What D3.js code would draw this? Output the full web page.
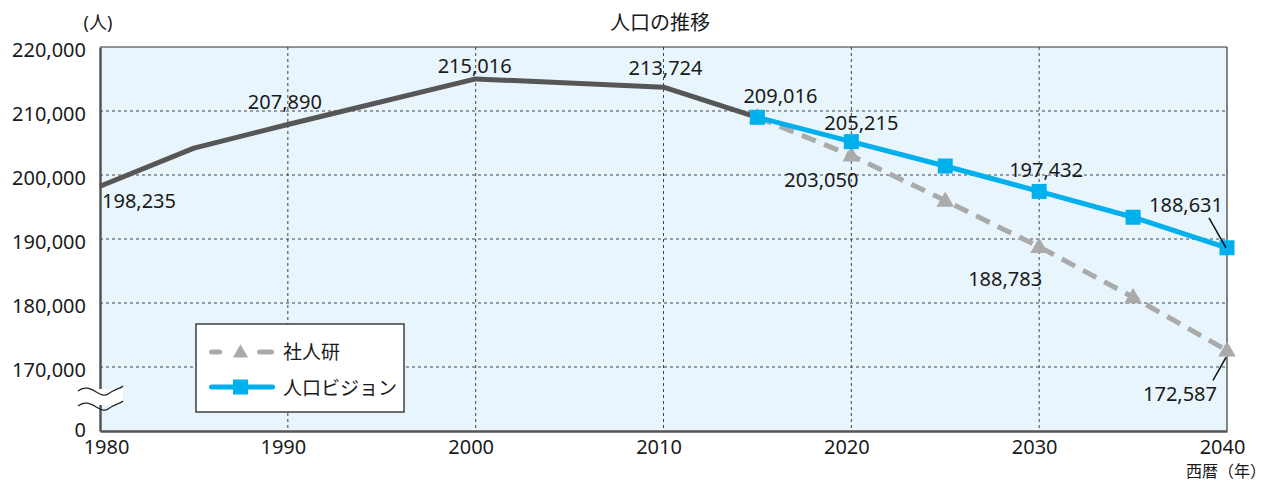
<!DOCTYPE html>
<html>
<head>
<meta charset="utf-8">
<title>人口の推移</title>
<script src="https://d3js.org/d3.v7.min.js"></script>
<style>
  body { margin: 0; background: #fff; }
  svg { display: block; }
  svg text { font-family: 'Noto Sans', 'Noto Sans CJK JP', sans-serif; }
  .lbl { font-size: 20px; fill: #1a1a1a; }
</style>
</head>
<body>
<svg></svg>
<script>
// data
var actualYears = [1980, 1985, 1990, 2000, 2010, 2015];
var actualValues = [198235, 204200, 207890, 215016, 213724, 209016];
var ipssYears = [2015, 2020, 2025, 2030, 2035, 2040];
var ipssValues = [209016, 203050, 196000, 188783, 180900, 172587];
var visionYears = [2015, 2020, 2025, 2030, 2035, 2040];
var visionValues = [209016, 205215, 201400, 197432, 193400, 188631];
var yTicks = [0, 170000, 180000, 190000, 200000, 210000, 220000];
var xTicks = [1980, 1990, 2000, 2010, 2020, 2030, 2040];
var seriesNames = ['社人研', '人口ビジョン'];

var width = 1273, height = 482;
var pLeft = 100, pRight = 1227, pTop = 47, pBottom = 431;

var svg = d3.select('svg').attr('width', width).attr('height', height);

var x = d3.scaleLinear().domain([1980, 2040]).range([pLeft, pRight]);
// broken axis: 0 .. 170,000 squeezed into one step
var y = d3.scaleLinear().domain([0, 170000, 220000]).range([pBottom, pBottom - 64, pTop]);

svg.append('rect')
  .attr('x', pLeft).attr('y', pTop)
  .attr('width', pRight - pLeft).attr('height', pBottom - pTop)
  .attr('fill', '#e8f5fd');

// grid
svg.append('g')
  .selectAll('line')
  .data(yTicks.filter(function (d) { return d > 0 && d < 220000; }))
  .enter().append('line')
  .attr('x1', pLeft).attr('x2', pRight)
  .attr('y1', function (d) { return y(d); }).attr('y2', function (d) { return y(d); })
  .attr('stroke', '#444').attr('stroke-width', 1).attr('stroke-dasharray', '3,3');

svg.append('g')
  .selectAll('line')
  .data(xTicks.filter(function (d) { return d > 1980 && d < 2040; }))
  .enter().append('line')
  .attr('x1', function (d) { return x(d); }).attr('x2', function (d) { return x(d); })
  .attr('y1', pTop).attr('y2', pBottom)
  .attr('stroke', '#444').attr('stroke-width', 1).attr('stroke-dasharray', '3,3');

// frame
svg.append('line').attr('x1', pLeft).attr('x2', pRight).attr('y1', pTop).attr('y2', pTop)
  .attr('stroke', '#333').attr('stroke-width', 1.2);
svg.append('line').attr('x1', pRight).attr('x2', pRight).attr('y1', pTop).attr('y2', pBottom)
  .attr('stroke', '#333').attr('stroke-width', 1.2);

// axes
var yAxis = d3.axisLeft(y).tickValues(yTicks).tickSize(0).tickPadding(14)
  .tickFormat(d3.format(','));
var gy = svg.append('g').attr('transform', 'translate(' + pLeft + ',0)').call(yAxis);
gy.select('.domain').attr('stroke', '#555').attr('stroke-width', 2.5);
gy.selectAll('text').style('font-size', '20px').attr('fill', '#1a1a1a')
  .attr('dy', function (d) { return d === 0 ? '0.25em' : '0.45em'; });

var xAxis = d3.axisBottom(x).tickValues(xTicks).tickSize(0).tickPadding(9)
  .tickFormat(d3.format('d'));
var gx = svg.append('g').attr('transform', 'translate(0,' + pBottom + ')').call(xAxis);
gx.select('.domain').attr('stroke', '#555').attr('stroke-width', 2.5);
gx.selectAll('text').style('font-size', '20px').attr('fill', '#1a1a1a')
  .attr('dx', function (d) { return d === 1980 ? 6 : -5; });

// axis break marks
var bx0 = 78, bx1 = 123, by0 = 391, by1 = 406;
function wave(yy) {
  return 'M' + bx0 + ',' + yy + ' C' + (bx0 + 12) + ',' + (yy - 10) + ' ' + (bx0 + 22) + ',' + (yy + 9) +
    ' ' + (bx0 + 30) + ',' + (yy + 3) + ' S' + (bx1 - 3) + ',' + (yy - 2) + ' ' + bx1 + ',' + (yy - 5);
}
svg.append('rect').attr('x', 95).attr('y', by0 - 2).attr('width', 28).attr('height', by1 - by0 + 1)
  .attr('fill', '#fff');
svg.append('path').attr('d', wave(by0)).attr('fill', 'none').attr('stroke', '#222').attr('stroke-width', 1.3);
svg.append('path').attr('d', wave(by1)).attr('fill', 'none').attr('stroke', '#222').attr('stroke-width', 1.3);

// lines
var line = d3.line()
  .x(function (d) { return x(d[0]); })
  .y(function (d) { return y(d[1]); });

var actual = d3.zip(actualYears, actualValues);
var ipss = d3.zip(ipssYears, ipssValues);
var vision = d3.zip(visionYears, visionValues);

svg.append('path').datum(ipss).attr('d', line)
  .attr('fill', 'none').attr('stroke', '#aaaaaa').attr('stroke-width', 5)
  .attr('stroke-dasharray', '15,9');
svg.append('g').selectAll('path').data(ipss).enter().append('path')
  .attr('d', d3.symbol().type(d3.symbolTriangle).size(135))
  .attr('transform', function (d) { return 'translate(' + x(d[0]) + ',' + (y(d[1]) + 1) + ')'; })
  .attr('fill', '#aaaaaa');

svg.append('path').datum(actual).attr('d', line)
  .attr('fill', 'none').attr('stroke', '#565656').attr('stroke-width', 5)
  .attr('stroke-linejoin', 'round');

svg.append('path').datum(vision).attr('d', line)
  .attr('fill', 'none').attr('stroke', '#00b0ec').attr('stroke-width', 5);
svg.append('g').selectAll('rect').data(vision).enter().append('rect')
  .attr('x', function (d) { return x(d[0]) - 7.5; })
  .attr('y', function (d) { return y(d[1]) - 7.5; })
  .attr('width', 15).attr('height', 15)
  .attr('fill', '#00b0ec');

// value labels
var fmt = d3.format(',');
var labels = [
  { v: actualValues[0], t: actualYears[0], dx: 39, dy: 15 },
  { v: actualValues[2], t: actualYears[2], dx: -3, dy: -23 },
  { v: actualValues[3], t: actualYears[3], dx: -1, dy: -13 },
  { v: actualValues[4], t: actualYears[4], dx: 2, dy: -19 },
  { v: visionValues[0], t: visionYears[0], dx: 23, dy: -21 },
  { v: visionValues[1], t: visionYears[1], dx: 10, dy: -19 },
  { v: ipssValues[1], t: ipssYears[1], dx: -30, dy: 24 },
  { v: visionValues[3], t: visionYears[3], dx: 7, dy: -22 },
  { v: ipssValues[3], t: ipssYears[3], dx: -34, dy: 32 },
  { v: visionValues[5], t: visionYears[5], dx: -41, dy: -43 },
  { v: ipssValues[5], t: ipssYears[5], dx: -47, dy: 43 }
];
svg.append('g').selectAll('text').data(labels).enter().append('text')
  .attr('class', 'lbl')
  .attr('x', function (d) { return x(d.t) + d.dx; })
  .attr('y', function (d) { return y(d.v) + d.dy; })
  .attr('text-anchor', 'middle')
  .attr('dy', '0.36em')
  .text(function (d) { return fmt(d.v); });

// leader lines
svg.append('line')
  .attr('x1', x(2040) - 18).attr('y1', y(visionValues[5]) - 30)
  .attr('x2', x(2040) - 1).attr('y2', y(visionValues[5]))
  .attr('stroke', '#111').attr('stroke-width', 1.5);
svg.append('line')
  .attr('x1', x(2040) - 14).attr('y1', y(ipssValues[5]) + 30)
  .attr('x2', x(2040) - 1).attr('y2', y(ipssValues[5]) + 7)
  .attr('stroke', '#111').attr('stroke-width', 1.5);

// titles
svg.append('text').attr('x', 660).attr('y', 30).attr('text-anchor', 'middle')
  .style('font-size', '20px').attr('fill', '#1a1a1a').text('人口の推移');
svg.append('text').attr('x', 98).attr('y', 29).attr('text-anchor', 'middle')
  .style('font-size', '18px').attr('fill', '#1a1a1a').text('(人)');
svg.append('text').attr('x', 1226).attr('y', 477).attr('text-anchor', 'middle')
  .style('font-size', '16px').attr('fill', '#1a1a1a').text('西暦（年）');

// legend
var lg = svg.append('g').attr('transform', 'translate(196,324)');
lg.append('rect').attr('width', 208).attr('height', 88)
  .attr('fill', '#fff').attr('stroke', '#222').attr('stroke-width', 1.3);
lg.selectAll('line.dash').data([[15.5, 23.5], [63.5, 75.5]]).enter().append('line')
  .attr('class', 'dash')
  .attr('x1', function (d) { return d[0]; }).attr('x2', function (d) { return d[1]; })
  .attr('y1', 28).attr('y2', 28)
  .attr('stroke', '#aaaaaa').attr('stroke-width', 5).attr('stroke-linecap', 'round');
lg.append('path').attr('d', d3.symbol().type(d3.symbolTriangle).size(100))
  .attr('transform', 'translate(44.5,29)').attr('fill', '#aaaaaa');
lg.append('line').attr('x1', 15.5).attr('x2', 76.5).attr('y1', 63).attr('y2', 63)
  .attr('stroke', '#00b0ec').attr('stroke-width', 5).attr('stroke-linecap', 'round');
lg.append('rect').attr('x', 37).attr('y', 55.5).attr('width', 15).attr('height', 15).attr('fill', '#00b0ec');
lg.selectAll('text.item').data(seriesNames).enter().append('text')
  .attr('class', 'lbl item')
  .style('font-size', '19px')
  .attr('x', 87).attr('y', function (d, i) { return 28 + i * 36; })
  .attr('dy', '0.36em')
  .text(function (d) { return d; });
</script>
</body>
</html>
